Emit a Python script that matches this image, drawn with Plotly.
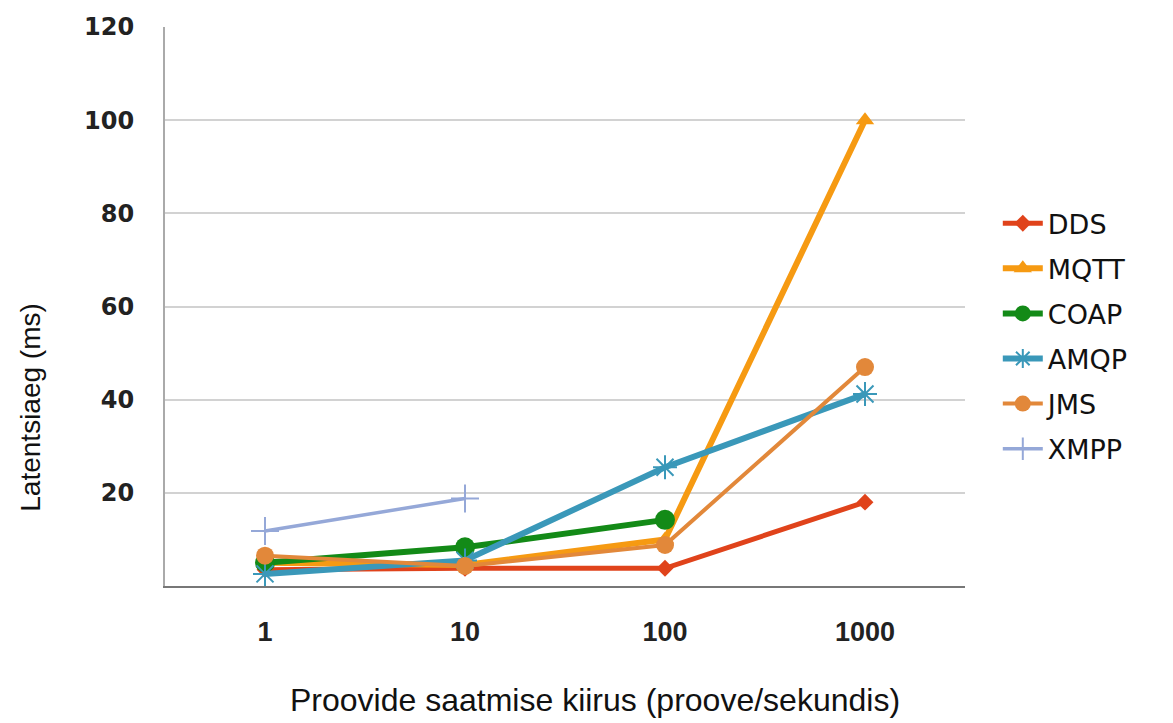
import plotly.graph_objects as go

categories = ["1", "10", "100", "1000"]
series_names = ["DDS", "MQTT", "COAP", "AMQP", "JMS", "XMPP"]
dds = [3.5, 3.8, 3.8, 18]
mqtt = [5.0, 4.5, 10, 100]
coap = [5.0, 8.3, 14.2, None]
amqp = [2.6, 5.5, 25.5, 41.2]
jms = [6.5, 4.3, 8.8, 47]
xmpp = [11.8, 18.8, None, None]
y_ticks = [20, 40, 60, 80, 100, 120]
x_title = "Proovide saatmise kiirus (proove/sekundis)"
y_title = "Latentsiaeg (ms)"

values = [dds, mqtt, coap, amqp, jms, xmpp]
colors = ["#E0431B", "#F69A12", "#138A17", "#3A98B9", "#E2883A", "#95A8D8"]
symbols = ["diamond", "triangle-up", "circle", "asterisk", "circle", "cross-thin"]
msizes = [13, 16, 20, 20, 18, 20]
lwidths = [5, 6, 6, 6, 4, 3.5]

fig = go.Figure()
for name, vals, c, s, ms, lw in zip(series_names, values, colors, symbols, msizes, lwidths):
    marker = dict(symbol=s, size=ms, color=c)
    if s in ("asterisk", "cross-thin"):
        marker["line"] = dict(color=c, width=2)
    fig.add_trace(go.Scatter(
        x=categories, y=vals, name=name, mode="lines+markers",
        line=dict(color=c, width=lw), marker=marker,
        legendgroup=name, connectgaps=False,
    ))

fig.update_layout(
    width=1165, height=715,
    margin=dict(l=157, r=208, t=19, b=137),
    paper_bgcolor="white", plot_bgcolor="white",
    showlegend=True,
    legend=dict(x=1.041, y=0.447, xanchor="left", yanchor="middle",
                font=dict(family="DejaVu Sans", size=27, color="#111"),
                tracegroupgap=7, itemwidth=40),
    font=dict(family="Liberation Sans", color="#222"),
    annotations=[
        dict(text=x_title, xref="paper", yref="paper", x=0.5375, y=-0.204,
             xanchor="center", yanchor="middle", showarrow=False,
             font=dict(family="Liberation Sans", size=32, color="#111")),
        dict(text=y_title, xref="paper", yref="paper", x=-0.168, y=0.32,
             xanchor="center", yanchor="middle", textangle=-90, showarrow=False,
             font=dict(family="Liberation Sans", size=28, color="#111")),
    ],
)
fig.update_xaxes(
    type="category", range=[-0.5, 3.5], showgrid=False, automargin=False,
    showline=True, linecolor="#777", linewidth=2,
    ticks="", tickfont=dict(family="Liberation Sans", size=27, color="#222", weight="bold"),
    ticklabelstandoff=21,
)
fig.update_yaxes(
    range=[0, 120], tickvals=y_ticks, showgrid=True, gridcolor="#D2D2D2", gridwidth=2,
    showline=True, linecolor="#AAA", linewidth=2, zeroline=False, automargin=False,
    ticks="", tickfont=dict(family="DejaVu Sans", size=24, color="#222", weight="bold"),
    ticklabelstandoff=24,
)

fig.write_html("out.html")
